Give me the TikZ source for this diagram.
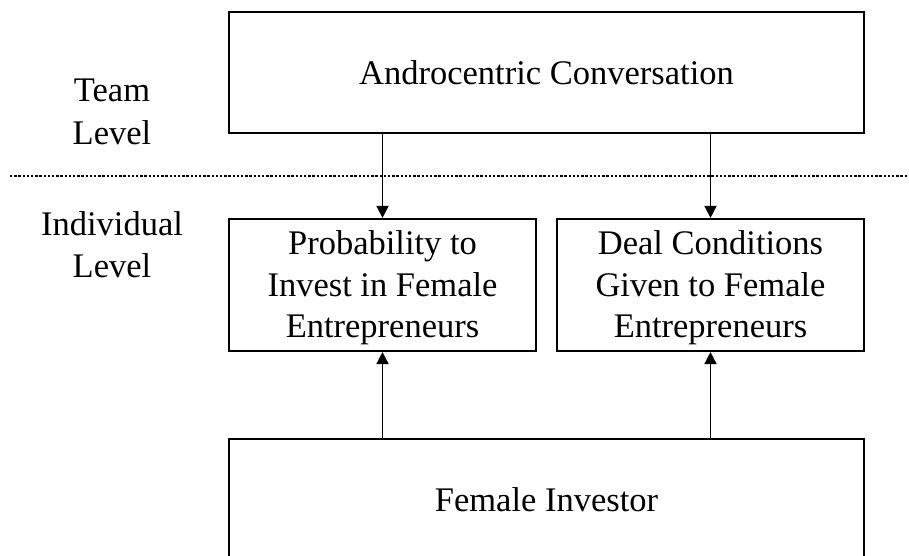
\documentclass[tikz,border=0pt]{standalone}
\usepackage{fontspec}
\setmainfont{Liberation Serif}
\usetikzlibrary{arrows.meta}
% taller first line, to set three-line box texts a little lower
\newcommand{\firstlinestrut}{\rule{0pt}{30pt}}
\begin{document}
\begin{tikzpicture}[x=1pt,y=-1pt,
  box/.style={draw=black,line width=2.2pt,inner sep=0pt,align=center,
    font=\fontsize{34.5}{41.5}\selectfont},
  levellabel/.style={inner sep=0pt,align=center,
    font=\fontsize{34.5}{42.5}\selectfont},
  link/.style={line width=1.7pt,-{Triangle[width=12pt,length=12pt]}},
  divider/.style={line width=2.6pt,dash pattern=on 2.4pt off 1.8pt}]
\useasboundingbox (0,0) rectangle (909,556);
\clip (0,0) rectangle (909,556);

% level labels
\node[levellabel] (team) at (112,112) {Team\\Level};
\node[levellabel] (indiv) at (112,244.5) {Individual\\Level};

% boxes
\node[box,minimum width=635pt,minimum height=121pt] (conv) at (546.5,72.5)
  {Androcentric Conversation};
\node[box,minimum width=307pt,minimum height=132pt] (prob) at (382.5,285)
  {\firstlinestrut Probability to\\Invest in Female\\Entrepreneurs};
\node[box,minimum width=307pt,minimum height=132pt] (deal) at (710.5,285)
  {\firstlinestrut Deal Conditions\\Given to Female\\Entrepreneurs};
\node[box,minimum width=635pt,minimum height=122pt] (inv) at (546.5,500)
  {Female Investor};

% team / individual divider
\coordinate (dl) at (10,176);
\coordinate (dr) at (909,176);
\draw[divider] (dl) -- (dr);

% effects
\draw[link] (conv.south -| prob.north) -- (prob.north);
\draw[link] (conv.south -| deal.north) -- (deal.north);
\draw[link] (inv.north -| prob.south) -- (prob.south);
\draw[link] (inv.north -| deal.south) -- (deal.south);
\end{tikzpicture}
\end{document}
